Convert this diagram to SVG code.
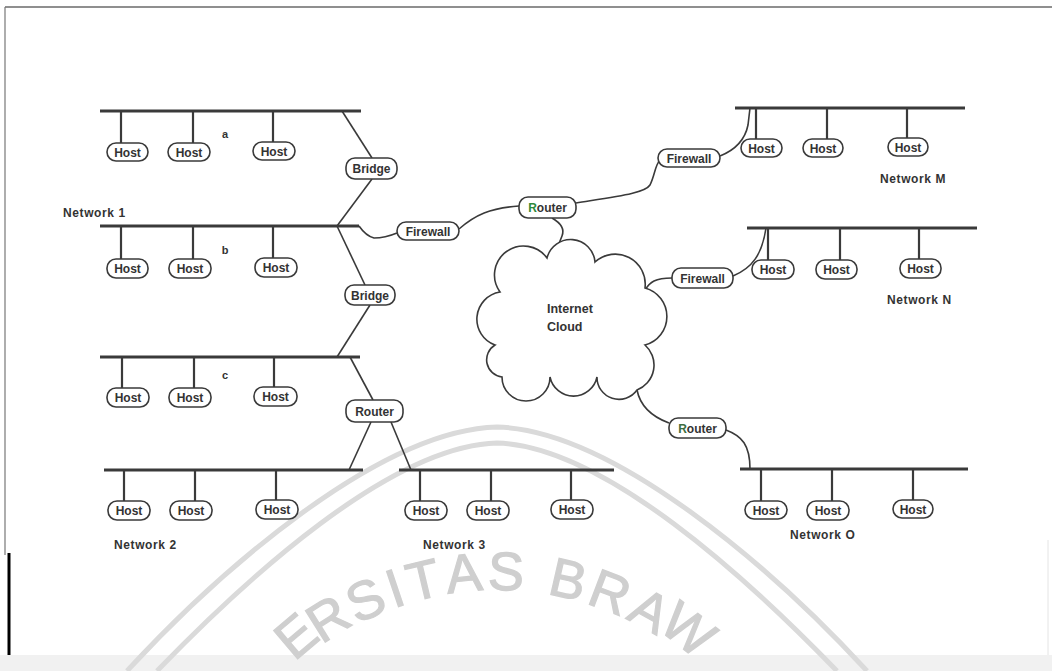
<svg xmlns="http://www.w3.org/2000/svg" width="1052" height="671" viewBox="0 0 1052 671">
<defs>
<style>
.box{fill:#fff;stroke:#3a3a3a;stroke-width:1.6}
.lbl{font-family:"Liberation Sans",Arial,sans-serif;font-weight:bold;font-size:12px;fill:#333;text-anchor:middle}
.net{font-family:"Liberation Sans",Arial,sans-serif;font-weight:bold;font-size:12px;fill:#333;letter-spacing:0.6px}
.bus{stroke:#3a3a3a;stroke-width:3;fill:none}
.drop{stroke:#3a3a3a;stroke-width:2.2;fill:none}
.wire{stroke:#3a3a3a;stroke-width:1.6;fill:none}
.wm{stroke:#dadada;stroke-width:5;fill:none}
.wmt{font-family:"Liberation Sans",Arial,sans-serif;font-size:54px;fill:#cfcfcf;stroke:#cfcfcf;stroke-width:1.2;text-anchor:middle}
</style>
</defs>
<rect width="1052" height="671" fill="#fff"/>
<rect x="0" y="655" width="1052" height="16" fill="#f1f1f1"/>
<g id="watermark">
<path class="wm" d="M127 671 C 220 570, 380 430, 497 427 C 614 430, 774 570, 867 671"/>
<path class="wm" d="M157 671 C 245 580, 390 446, 497 443 C 604 446, 749 580, 837 671"/>
<text class="wmt" transform="translate(308,650) rotate(-40.2)">E</text>
<text class="wmt" transform="translate(338,634) rotate(-32.3)">R</text>
<text class="wmt" transform="translate(373.1,616.8) rotate(-24.4)">S</text>
<text class="wmt" transform="translate(400.8,605.8) rotate(-18.7)">I</text>
<text class="wmt" transform="translate(427.5,598.2) rotate(-13.4)">T</text>
<text class="wmt" transform="translate(465.6,591.6) rotate(-6)">A</text>
<text class="wmt" transform="translate(505.4,590.1) rotate(1.6)">S</text>
<text class="wmt" transform="translate(564,597.6) rotate(12.9)">B</text>
<text class="wmt" transform="translate(603.5,609.6) rotate(20.8)">R</text>
<text class="wmt" transform="translate(641.1,626.9) rotate(28.7)">A</text>
<text class="wmt" transform="translate(677,644) rotate(37.8)">W</text>
</g>
<g id="frame">
<path d="M5 7 H1052" stroke="#6a6a6a" stroke-width="1.5" fill="none"/>
<path d="M5 7 V555" stroke="#777" stroke-width="1.2" fill="none"/>
<path d="M9 553 V655" stroke="#000" stroke-width="3" fill="none"/>
<path d="M1048 540 V655" stroke="#e4e4e4" stroke-width="1" fill="none"/>
</g>
<g id="connectors">
<path class="bus" d="M100 111 H361"/>
<path class="bus" d="M100 226 H359"/>
<path class="bus" d="M100 357 H360"/>
<path class="bus" d="M104 470 H363"/>
<path class="bus" d="M399 470 H614"/>
<path class="bus" d="M735 108 H965"/>
<path class="bus" d="M747 228 H977"/>
<path class="bus" d="M740 469 H968"/>
<path class="drop" d="M121 111 V143 M193 111 V143 M273 111 V143"/>
<path class="drop" d="M121 226 V259 M193 226 V259 M273 226 V259"/>
<path class="drop" d="M122 357 V388 M194 357 V388 M274 357 V388"/>
<path class="drop" d="M124 470 V501 M195 470 V501 M276 470 V501"/>
<path class="drop" d="M420 470 V501 M491 470 V501 M571 470 V501"/>
<path class="drop" d="M756 108 V139 M827 108 V139 M907 108 V139"/>
<path class="drop" d="M768 228 V260 M840 228 V260 M919 228 V260"/>
<path class="drop" d="M761 469 V501 M832 469 V501 M913 469 V501"/>
<path class="wire" d="M342 111 L372 158"/>
<path class="wire" d="M372 179 L337 226"/>
<path class="wire" d="M337 226 L365 285"/>
<path class="wire" d="M370 305 L337 357"/>
<path class="wire" d="M350 357 L373 400"/>
<path class="wire" d="M371 422 L349 470"/>
<path class="wire" d="M391 422 L411 470"/>
<path class="wire" d="M359 226 Q 366 236 374 238 Q 385 238 397 233"/>
<path class="wire" d="M459 229 C 475 215, 490 208, 519 206"/>
<path class="wire" d="M576 203 C 620 196, 645 193, 650 185 C 655 175, 655 165, 660 160"/>
<path class="wire" d="M720 156 C 735 150, 745 140, 748 125 L 750 108"/>
<path class="wire" d="M552 218 Q 566 226 562 236 L 558 246"/>
<path class="wire" d="M645 290 C 650 282, 655 278, 672 278"/>
<path class="wire" d="M733 276 C 752 268, 762 255, 766 228"/>
<path class="wire" d="M637 390 C 640 405, 650 416, 669 423"/>
<path class="wire" d="M726 430 C 742 436, 750 445, 750 469"/>
</g>
<g id="cloud">
<path fill="#fff" stroke="#3a3a3a" stroke-width="1.6" d="M500 292 A 28 28 0 0 1 547 258 A 24.4 24.4 0 0 1 595 262 A 30 30 0 0 1 645 288 A 29.5 29.5 0 0 1 645 345 A 26.8 26.8 0 0 1 637 390 A 22 22 0 0 1 597 377 A 24 24 0 0 1 550 377 A 24 24 0 0 1 502 377 A 17.3 17.3 0 0 1 495 345 A 27.5 27.5 0 0 1 500 292 Z"/>
<text class="lbl" x="547" y="313" style="text-anchor:start;font-size:12.5px">Internet</text>
<text class="lbl" x="547" y="331" style="text-anchor:start;font-size:12.5px">Cloud</text>
</g>
<g id="bridge1"><rect class="box" x="346" y="158" width="51" height="21" rx="9"/><text class="lbl" x="371.5" y="173">Bridge</text></g>
<g id="bridge2"><rect class="box" x="345" y="285" width="50" height="20" rx="9"/><text class="lbl" x="370" y="299.5">Bridge</text></g>
<g id="router-left"><rect class="box" x="346" y="400" width="57" height="22" rx="9"/><text class="lbl" x="374.5" y="415.5">Router</text></g>
<g id="router-top"><rect class="box" x="519" y="197" width="57" height="21" rx="9"/><text class="lbl" x="547.5" y="212"><tspan fill="#2f8a3a">R</tspan>outer</text></g>
<g id="router-right"><rect class="box" x="669" y="418" width="57" height="20" rx="9"/><text class="lbl" x="697.5" y="432.5"><tspan fill="#3d6e40">R</tspan>outer</text></g>
<g id="firewall-left"><rect class="box" x="397" y="222" width="62" height="18" rx="9"/><text class="lbl" x="428" y="235.5">Firewall</text></g>
<g id="firewall-m"><rect class="box" x="658" y="149" width="62" height="18" rx="9"/><text class="lbl" x="689" y="162.5">Firewall</text></g>
<g id="firewall-n"><rect class="box" x="672" y="268" width="61" height="20" rx="9"/><text class="lbl" x="702.5" y="282.5">Firewall</text></g>
<g id="host-a1"><rect class="box" x="107" y="143" width="41" height="18" rx="9"/><text class="lbl" x="127.5" y="156.5">Host</text></g>
<g id="host-a2"><rect class="box" x="168" y="143" width="42" height="18" rx="9"/><text class="lbl" x="189" y="156.5">Host</text></g>
<g id="host-a3"><rect class="box" x="253" y="142" width="42" height="18" rx="9"/><text class="lbl" x="274" y="155.5">Host</text></g>
<g id="host-b1"><rect class="box" x="107" y="259" width="41" height="19" rx="9"/><text class="lbl" x="127.5" y="273">Host</text></g>
<g id="host-b2"><rect class="box" x="169" y="259" width="42" height="19" rx="9"/><text class="lbl" x="190" y="273">Host</text></g>
<g id="host-b3"><rect class="box" x="255" y="258" width="42" height="19" rx="9"/><text class="lbl" x="276" y="272">Host</text></g>
<g id="host-c1"><rect class="box" x="107" y="388" width="42" height="19" rx="9"/><text class="lbl" x="128" y="402">Host</text></g>
<g id="host-c2"><rect class="box" x="169" y="388" width="42" height="19" rx="9"/><text class="lbl" x="190" y="402">Host</text></g>
<g id="host-c3"><rect class="box" x="254" y="387" width="43" height="19" rx="9"/><text class="lbl" x="275.5" y="401">Host</text></g>
<g id="host-21"><rect class="box" x="108" y="501" width="42" height="19" rx="9"/><text class="lbl" x="129" y="515">Host</text></g>
<g id="host-22"><rect class="box" x="170" y="501" width="42" height="19" rx="9"/><text class="lbl" x="191" y="515">Host</text></g>
<g id="host-23"><rect class="box" x="256" y="500" width="42" height="19" rx="9"/><text class="lbl" x="277" y="514">Host</text></g>
<g id="host-31"><rect class="box" x="405" y="501" width="42" height="19" rx="9"/><text class="lbl" x="426" y="515">Host</text></g>
<g id="host-32"><rect class="box" x="467" y="501" width="42" height="19" rx="9"/><text class="lbl" x="488" y="515">Host</text></g>
<g id="host-33"><rect class="box" x="551" y="500" width="42" height="19" rx="9"/><text class="lbl" x="572" y="514">Host</text></g>
<g id="host-m1"><rect class="box" x="741" y="139" width="41" height="18" rx="9"/><text class="lbl" x="761.5" y="152.5">Host</text></g>
<g id="host-m2"><rect class="box" x="803" y="139" width="40" height="18" rx="9"/><text class="lbl" x="823" y="152.5">Host</text></g>
<g id="host-m3"><rect class="box" x="888" y="138" width="40" height="18" rx="9"/><text class="lbl" x="908" y="151.5">Host</text></g>
<g id="host-n1"><rect class="box" x="752" y="260" width="42" height="19" rx="9"/><text class="lbl" x="773" y="274">Host</text></g>
<g id="host-n2"><rect class="box" x="816" y="260" width="41" height="19" rx="9"/><text class="lbl" x="836.5" y="274">Host</text></g>
<g id="host-n3"><rect class="box" x="900" y="259" width="41" height="19" rx="9"/><text class="lbl" x="920.5" y="273">Host</text></g>
<g id="host-o1"><rect class="box" x="745" y="501" width="42" height="18" rx="9"/><text class="lbl" x="766" y="514.5">Host</text></g>
<g id="host-o2"><rect class="box" x="807" y="501" width="42" height="19" rx="9"/><text class="lbl" x="828" y="515">Host</text></g>
<g id="host-o3"><rect class="box" x="893" y="500" width="40" height="18" rx="9"/><text class="lbl" x="913" y="513.5">Host</text></g>
<g id="labels">
<text class="lbl" x="225" y="138" style="font-size:11px">a</text>
<text class="lbl" x="225" y="254" style="font-size:11px">b</text>
<text class="lbl" x="225" y="379" style="font-size:11px">c</text>
<text class="net" x="63" y="217">Network 1</text>
<text class="net" x="114" y="549">Network 2</text>
<text class="net" x="423" y="549">Network 3</text>
<text class="net" x="880" y="183">Network M</text>
<text class="net" x="887" y="304">Network N</text>
<text class="net" x="790" y="539">Network O</text>
</g>
</svg>
